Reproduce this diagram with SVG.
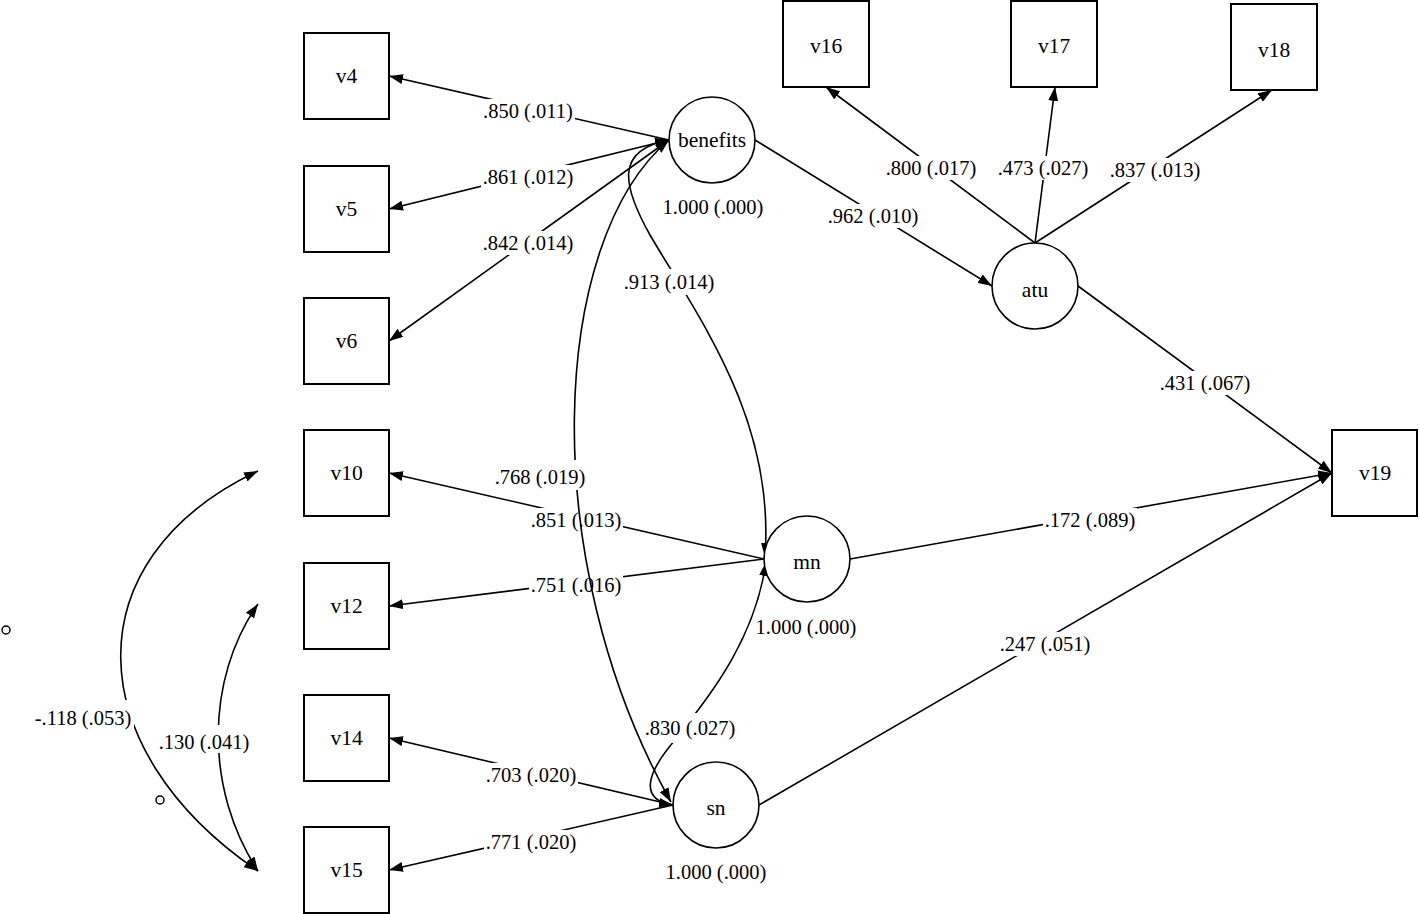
<svg xmlns="http://www.w3.org/2000/svg" width="1419" height="914" viewBox="0 0 1419 914">
<style>
  .box{fill:#fff;stroke:#000;stroke-width:2}
  .lat{fill:#fff;stroke:#000;stroke-width:1.6}
  .nl{font-family:"Liberation Serif","Times New Roman",serif;font-size:21.5px;text-anchor:middle;fill:#000}
  .el{font-family:"Liberation Serif","Times New Roman",serif;font-size:20.5px;text-anchor:middle;fill:#000}
  .e{fill:none;stroke:#000;stroke-width:1.6;marker-end:url(#ah)}
  .c{fill:none;stroke:#000;stroke-width:1.6;marker-start:url(#ah);marker-end:url(#ah)}
  .bg{fill:#fff}
  .dot{fill:#fff;stroke:#000;stroke-width:1.5}
</style>
<defs>
  <marker id="ah" viewBox="0 0 14 10" refX="14" refY="5" markerWidth="14" markerHeight="10" markerUnits="userSpaceOnUse" orient="auto-start-reverse">
    <path d="M0,0 L14,5 L0,10 z" fill="#000"/>
  </marker>
</defs>
<rect width="1419" height="914" fill="#fff"/>

<g id="connectors">
  <!-- benefits indicators -->
  <line class="e" x1="669" y1="140" x2="389" y2="76"/>
  <rect class="bg" x="481" y="99" width="94" height="24"/>
  <text class="el" x="528" y="118">.850 (.011)</text>
  <line class="e" x1="669" y1="140" x2="389" y2="209"/>
  <rect class="bg" x="481" y="165" width="94" height="24"/>
  <text class="el" x="528" y="184">.861 (.012)</text>
  <line class="e" x1="669" y1="140" x2="389" y2="341"/>
  <rect class="bg" x="481" y="231" width="94" height="24"/>
  <text class="el" x="528" y="250">.842 (.014)</text>

  <!-- mn indicators -->
  <line class="e" x1="764" y1="559" x2="389" y2="473"/>
  <rect class="bg" x="529" y="508" width="94" height="24"/>
  <text class="el" x="576" y="527">.851 (.013)</text>
  <line class="e" x1="764" y1="559" x2="389" y2="606"/>
  <rect class="bg" x="529" y="573" width="94" height="24"/>
  <text class="el" x="576" y="592">.751 (.016)</text>

  <!-- sn indicators -->
  <line class="e" x1="673" y1="805" x2="389" y2="738"/>
  <rect class="bg" x="484" y="763" width="94" height="24"/>
  <text class="el" x="531" y="782">.703 (.020)</text>
  <line class="e" x1="673" y1="805" x2="389" y2="870"/>
  <rect class="bg" x="484" y="830" width="94" height="24"/>
  <text class="el" x="531" y="849">.771 (.020)</text>

  <!-- atu indicators -->
  <line class="e" x1="1035" y1="243" x2="826" y2="87"/>
  <rect class="bg" x="884" y="156" width="94" height="24"/>
  <text class="el" x="931" y="175">.800 (.017)</text>
  <line class="e" x1="1035" y1="243" x2="1055" y2="87"/>
  <rect class="bg" x="996" y="156" width="94" height="24"/>
  <text class="el" x="1043" y="175">.473 (.027)</text>
  <line class="e" x1="1035" y1="243" x2="1272" y2="90"/>
  <rect class="bg" x="1108" y="158" width="94" height="24"/>
  <text class="el" x="1155" y="177">.837 (.013)</text>

  <!-- structural paths -->
  <line class="e" x1="755" y1="140" x2="992" y2="286"/>
  <rect class="bg" x="826" y="204" width="94" height="24"/>
  <text class="el" x="873" y="223">.962 (.010)</text>
  <line class="e" x1="1078" y1="286" x2="1332" y2="473"/>
  <rect class="bg" x="1158" y="371" width="94" height="24"/>
  <text class="el" x="1205" y="390">.431 (.067)</text>
  <line class="e" x1="850" y1="559" x2="1332" y2="473"/>
  <rect class="bg" x="1043" y="508" width="94" height="24"/>
  <text class="el" x="1090" y="527">.172 (.089)</text>
  <line class="e" x1="759" y1="805" x2="1332" y2="473"/>
  <rect class="bg" x="998" y="632" width="94" height="24"/>
  <text class="el" x="1045" y="651">.247 (.051)</text>

  <!-- latent covariances -->
  <path class="c" d="M669,140 C615,150 622,185 650,235 C700,320 775,420 765,557"/>
  <rect class="bg" x="622" y="269" width="94" height="26"/>
  <text class="el" x="669" y="289">.913 (.014)</text>
  <path class="c" d="M669,140 C550,240 535,560 671,802"/>
  <rect class="bg" x="493" y="460" width="94" height="30"/>
  <text class="el" x="540" y="484">.768 (.019)</text>
  <path class="c" d="M673,805 C640,800 645,775 675,740 C710,695 755,640 766,562"/>
  <rect class="bg" x="643" y="713" width="94" height="30"/>
  <text class="el" x="690" y="735">.830 (.027)</text>

  <!-- error covariances -->
  <path class="c" d="M258,471 C70,560 80,750 258,871"/>
  <rect class="bg" x="33" y="700" width="101" height="30"/>
  <text class="el" x="83" y="725">-.118 (.053)</text>
  <path class="c" d="M258,604 C205,680 205,790 258,871"/>
  <rect class="bg" x="157" y="725" width="94" height="28"/>
  <text class="el" x="204" y="749">.130 (.041)</text>

  <circle class="dot" cx="6" cy="630" r="4"/>
  <circle class="dot" cx="160" cy="800" r="4"/>
</g>

<g id="v4"><rect class="box" x="304" y="33" width="85" height="86"/><text class="nl" x="346.5" y="83">v4</text></g>
<g id="v5"><rect class="box" x="304" y="166" width="85" height="86"/><text class="nl" x="346.5" y="216">v5</text></g>
<g id="v6"><rect class="box" x="304" y="298" width="85" height="86"/><text class="nl" x="346.5" y="348">v6</text></g>
<g id="v10"><rect class="box" x="304" y="430" width="85" height="86"/><text class="nl" x="346.5" y="480">v10</text></g>
<g id="v12"><rect class="box" x="304" y="563" width="85" height="86"/><text class="nl" x="346.5" y="613">v12</text></g>
<g id="v14"><rect class="box" x="304" y="695" width="85" height="86"/><text class="nl" x="346.5" y="745">v14</text></g>
<g id="v15"><rect class="box" x="304" y="827" width="85" height="86"/><text class="nl" x="346.5" y="877">v15</text></g>
<g id="v16"><rect class="box" x="783" y="1" width="86" height="86"/><text class="nl" x="826" y="53">v16</text></g>
<g id="v17"><rect class="box" x="1011" y="1" width="86" height="86"/><text class="nl" x="1054" y="53">v17</text></g>
<g id="v18"><rect class="box" x="1231" y="4" width="86" height="86"/><text class="nl" x="1274" y="57">v18</text></g>
<g id="v19"><rect class="box" x="1332" y="430" width="85" height="86"/><text class="nl" x="1375" y="480">v19</text></g>

<g id="benefits"><circle class="lat" cx="712" cy="140" r="43"/><text class="nl" x="712" y="147">benefits</text><text class="el" x="713" y="214">1.000 (.000)</text></g>
<g id="atu"><circle class="lat" cx="1035" cy="286" r="43"/><text class="nl" x="1035" y="297">atu</text></g>
<g id="mn"><circle class="lat" cx="807" cy="559" r="43"/><text class="nl" x="807" y="569">mn</text><text class="el" x="806" y="634">1.000 (.000)</text></g>
<g id="sn"><circle class="lat" cx="716" cy="805" r="43"/><text class="nl" x="716" y="815">sn</text><text class="el" x="716" y="879">1.000 (.000)</text></g>
</svg>
